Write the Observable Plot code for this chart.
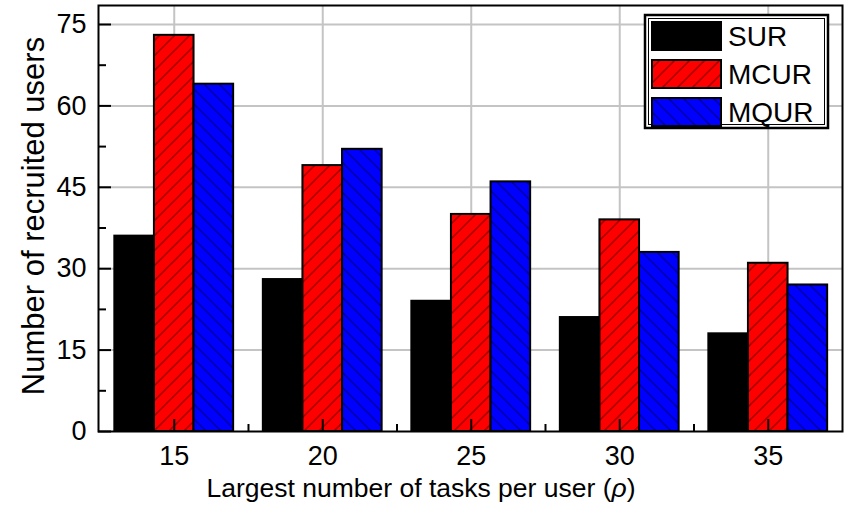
<!DOCTYPE html>
<html>
<head>
<meta charset="utf-8">
<script src="https://cdn.jsdelivr.net/npm/d3@7"></script>
<script src="https://cdn.jsdelivr.net/npm/@observablehq/plot@0.6"></script>
<style>
  html, body { margin: 0; padding: 0; background: #fff; }
  #chart { position: relative; width: 848px; height: 505px; }
  #chart svg { font-family: "Liberation Sans", Arial, sans-serif; }
</style>
</head>
<body>
<div id="chart"></div>
<script>
// Largest number of tasks per user (rho) and recruited users per scheme
const rhoValues = [15, 20, 25, 30, 35];
const seriesNames = ["SUR", "MCUR", "MQUR"];
const surValues = [36, 28, 24, 21, 18];
const mcurValues = [73, 49, 40, 39, 31];
const mqurValues = [64, 52, 46, 33, 27];

// Axis ticks
const yTickValues = [0, 15, 30, 45, 60, 75];
const yMinorTicks = [7.5, 22.5, 37.5, 52.5, 67.5];
const xMinorTicks = [17.5, 22.5, 27.5, 32.5];

const seriesFill = {SUR: "black", MCUR: "url(#hatch-mcur)", MQUR: "url(#hatch-mqur)"};
const groupWidth = 4;                               // share of the 5-unit rho step used by a group
const barWidth = groupWidth / seriesNames.length;

const rows = [];
[surValues, mcurValues, mqurValues].forEach((vals, k) =>
  vals.forEach((v, i) => rows.push({rho: rhoValues[i], series: seriesNames[k], k, value: v}))
);

const font = '"Liberation Sans", Arial, sans-serif';
const W = 848, H = 505;
const margin = {left: 98, right: 6, top: 5, bottom: 74};
const frameW = W - margin.left - margin.right;
const frameH = H - margin.top - margin.bottom;

// inward tick marks: a tick spans only `len` pixels of the frame
const yTicks = (values, len) => Plot.tickY(values, {y: d => d, stroke: "black", strokeWidth: 2, insetRight: frameW - len});
const xTicks = (values, len) => Plot.tickX(values, {x: d => d, stroke: "black", strokeWidth: 2, insetTop: frameH - len});

const plot = Plot.plot({
  width: W,
  height: H,
  marginLeft: margin.left,
  marginRight: margin.right,
  marginTop: margin.top,
  marginBottom: margin.bottom,
  style: {fontFamily: font, fontSize: "27px", color: "black", background: "white", overflow: "visible"},
  x: {domain: [12.45, 37.5], axis: null},
  y: {domain: [0, 78.5], axis: null},
  marks: [
    Plot.ruleY(yTickValues.slice(1), {y: d => d, stroke: "#c4c4c4", strokeWidth: 2}),
    Plot.ruleX(rhoValues, {x: d => d, stroke: "#c4c4c4", strokeWidth: 2}),
    ...seriesNames.map(s => Plot.rectY(rows.filter(d => d.series === s), {
      x1: d => d.rho + (d.k - 1.5) * barWidth,
      x2: d => d.rho + (d.k - 0.5) * barWidth,
      y1: 0,
      y2: "value",
      fill: seriesFill[s],
      stroke: "black",
      strokeWidth: 2
    })),
    yTicks(yTickValues, 13),
    yTicks(yMinorTicks, 8),
    xTicks(rhoValues, 12),
    xTicks(xMinorTicks, 7),
    Plot.text(yTickValues, {y: d => d, text: d => String(d), frameAnchor: "left", textAnchor: "end", dx: -12, fontSize: 27, fill: "black"}),
    Plot.text(rhoValues, {x: d => d, text: d => String(d), frameAnchor: "bottom", lineAnchor: "top", dy: 14, fontSize: 27, fill: "black"}),
    Plot.frame({stroke: "black", strokeWidth: 2})
  ]
});

document.getElementById("chart").appendChild(plot);

const svg = d3.select(plot);

// Hatch patterns for the MCUR and MQUR bars
const defs = svg.insert("defs", ":first-child");
function hatch(id, color, forward) {
  const s = 15;
  const p = defs.append("pattern")
    .attr("id", id)
    .attr("patternUnits", "userSpaceOnUse")
    .attr("width", s)
    .attr("height", s);
  p.append("rect").attr("width", s).attr("height", s).attr("fill", color);
  p.append("path")
    .attr("d", forward
      ? `M-2,2 L2,-2 M0,${s} L${s},0 M${s - 2},${s + 2} L${s + 2},${s - 2}`
      : `M-2,${s - 2} L2,${s + 2} M0,0 L${s},${s} M${s - 2},-2 L${s + 2},2`)
    .attr("stroke", "rgba(0,0,0,0.32)")
    .attr("stroke-width", 1.6);
}
hatch("hatch-mcur", "#ff0000", true);
hatch("hatch-mqur", "#0000ff", false);

// Axis titles
const xTitle = svg.append("text")
  .attr("x", 421)
  .attr("y", 497)
  .attr("text-anchor", "middle")
  .attr("font-family", font)
  .attr("font-size", 26.5)
  .attr("fill", "black");
xTitle.append("tspan").text("Largest number of tasks per user (");
xTitle.append("tspan").attr("font-style", "italic").text("ρ");
xTitle.append("tspan").text(")");

svg.append("text")
  .attr("transform", "translate(44,216) rotate(-90)")
  .attr("text-anchor", "middle")
  .attr("font-family", font)
  .attr("font-size", 31)
  .attr("fill", "black")
  .text("Number of recruited users");

// Legend box
const legend = svg.append("g")
  .attr("font-family", font)
  .attr("font-size", 28)
  .attr("text-anchor", "start");
legend.append("rect")
  .attr("x", 645).attr("y", 15).attr("width", 183).attr("height", 113)
  .attr("fill", "white").attr("stroke", "black").attr("stroke-width", 2.5);
legend.append("rect")
  .attr("x", 648.5).attr("y", 18.5).attr("width", 176).attr("height", 106)
  .attr("fill", "none").attr("stroke", "black").attr("stroke-width", 1);
seriesNames.forEach((s, i) => {
  const y0 = 22 + i * 38;
  legend.append("rect")
    .attr("x", 652).attr("y", y0).attr("width", 69).attr("height", 28)
    .attr("fill", seriesFill[s]).attr("stroke", "black").attr("stroke-width", 2);
  legend.append("text")
    .attr("x", 728).attr("y", y0 + 14 + 10)
    .attr("text-anchor", "start")
    .attr("fill", "black")
    .text(s);
});
</script>
</body>
</html>
